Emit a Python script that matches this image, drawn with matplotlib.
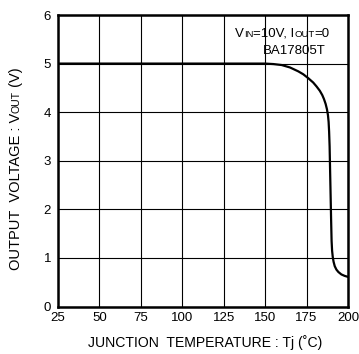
import matplotlib
matplotlib.use('Agg')
import matplotlib.pyplot as plt
import numpy as np

plt.rcParams['font.family'] = ['Liberation Sans', 'DejaVu Sans']

# junction temperature (deg C) and output voltage (V)
temp = [25, 50, 75, 100, 125, 150, 155, 160, 165, 170, 173, 176, 179, 181, 183,
        184.5, 185.5, 186.5, 187.3, 187.9, 188.3, 188.6, 188.9, 189.2, 189.5,
        189.8, 190.1, 190.4, 190.8, 191.3, 192, 193, 194.2, 196, 198, 200]
vout = [5.0, 5.0, 5.0, 5.0, 5.0, 5.0, 4.99, 4.97, 4.92, 4.84, 4.78, 4.7, 4.61,
        4.53, 4.44, 4.35, 4.27, 4.17, 4.06, 3.94, 3.8, 3.6, 3.3, 2.8, 2.3,
        1.8, 1.35, 1.15, 1.02, 0.92, 0.83, 0.76, 0.71, 0.66, 0.63, 0.61]

xticks = [25, 50, 75, 100, 125, 150, 175, 200]
yticks = [0, 1, 2, 3, 4, 5, 6]

W, H = 359, 354
fig = plt.figure(figsize=(W / 100, H / 100), dpi=100)
ax = fig.add_axes([58 / W, 1 - 306.5 / H, 290 / W, 291.5 / H])

ax.plot(temp, vout, color='black', lw=1.6, zorder=3)
ax.set_xlim(25, 200)
ax.set_ylim(0, 6)
ax.set_xticks(xticks)
ax.set_yticks(yticks)
ax.grid(True, color='black', lw=0.8)
ax.tick_params(length=0, labelsize=9.5, colors='black')
ax.tick_params(axis='y', pad=5)
ax.tick_params(axis='x', pad=4)
for s in ax.spines.values():
    s.set_linewidth(1.8)


def runs(x, y, parts, size, small, rotation=0):
    # draw text with small-caps pieces one after another (x, y in pixels)
    r = fig.canvas.get_renderer()
    pos = 0.0
    for txt, is_small in parts:
        fs = small if is_small else size
        if rotation == 0:
            t = fig.text((x + pos) / W, 1 - y / H, txt, fontsize=fs,
                         ha='left', va='baseline')
            pos += t.get_window_extent(r).width
        else:
            t = fig.text(x / W, 1 - (y - pos) / H, txt, fontsize=fs,
                         ha='left', va='baseline', rotation=90,
                         rotation_mode='anchor')
            pos += t.get_window_extent(r).height


runs(235, 37, [('V', False), ('IN', True), ('=10V, I', False), ('OUT', True), ('=0', False)], 9.5, 6.8)
fig.text(263 / W, 1 - 54 / H, 'BA17805T', fontsize=9.5, ha='left', va='baseline')

fig.text(205 / W, 1 - 343 / H, 'JUNCTION  TEMPERATURE : Tj (˚C)', fontsize=10.1,
         ha='center', va='center')
runs(20, 270, [('OUTPUT  VOLTAGE : V', False), ('OUT', True), (' (V)', False)], 10.5, 7.6, rotation=90)

fig.savefig('out.png', dpi=100)
